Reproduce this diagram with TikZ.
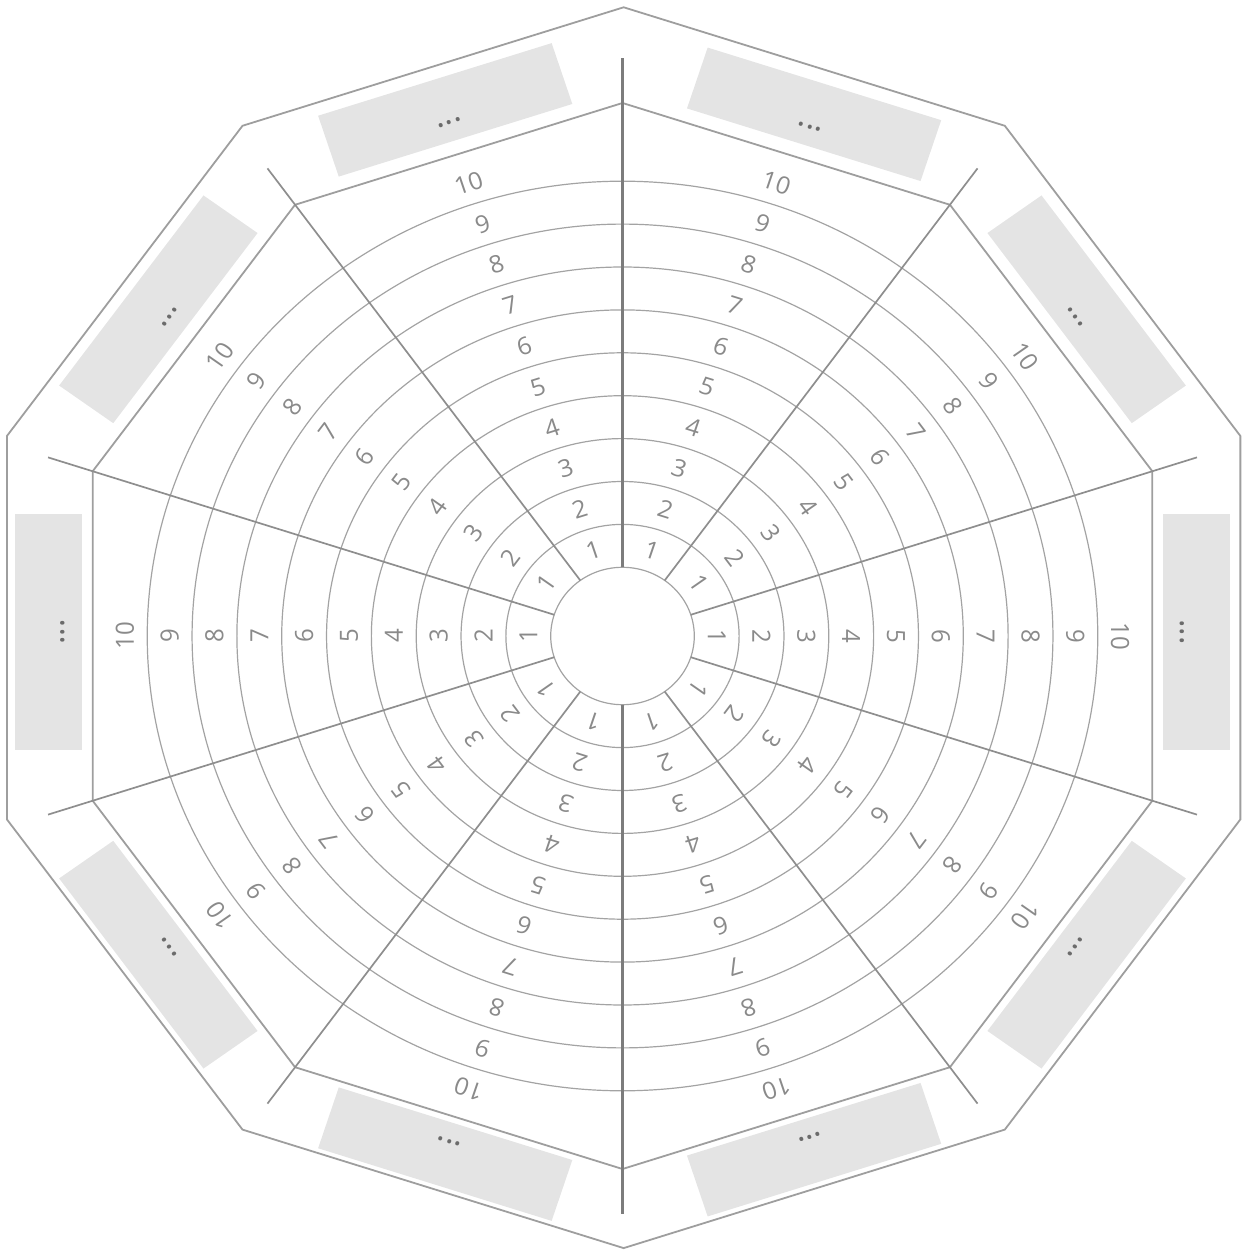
\documentclass[tikz,border=0pt]{standalone}
\usepackage{fontspec}
\setmainfont{Open Sans}
\usepackage{tikz}
\usetikzlibrary{positioning}
\usepackage{xcolor}

\definecolor{ringgray}{HTML}{A3A3A3}
\definecolor{spokegray}{HTML}{8E8E8E}
\definecolor{axisgray}{HTML}{7C7C7C}
\definecolor{rimgray}{HTML}{9E9E9E}
\definecolor{scoregray}{HTML}{8A8A8A}
\definecolor{slotgray}{HTML}{E4E4E4}
\definecolor{dotgray}{HTML}{6B6B6B}

\begin{document}
\begin{tikzpicture}[
      x=0.5pt, y=0.5pt, xscale=1.045,
      ring/.style={draw=ringgray, line width=0.6pt},
      spoke/.style={draw=spokegray, line width=0.85pt},
      axis/.style={draw=axisgray, line width=1.5pt},
      rim/.style={draw=rimgray, line width=0.9pt},
      score/.style={
        font=\fontsize{12}{14}\selectfont,
        text=scoregray,
        inner sep=0pt,
        transform shape
      },
      slot/.style={
        fill=slotgray,
        minimum width=117.5pt,
        minimum height=32pt,
        inner sep=0pt,
        text height=15pt, % dots sit below the middle of the slot
        text depth=0pt,
        font=\fontsize{16}{16}\selectfont,
        text=dotgray,
        transform shape
      }
    ]
    % Fix the margins
    \useasboundingbox (-595.7,-616) rectangle (599.5,636);

    % Outer rim, a little higher than the wheel
    \begin{scope}[shift={(1.1,8.3)}]
      \foreach \i in {0,...,9}
        \coordinate (outer\i) at ({90-36*\i}:620.4);
    \end{scope}
    \draw [rim] (outer0) -- (outer1) -- (outer2) -- (outer3) -- (outer4) -- (outer5)
      -- (outer6) -- (outer7) -- (outer8) -- (outer9) -- cycle;

    % Inner rim
    \foreach \i in {0,...,9}
      \coordinate (inner\i) at ({90-36*\i}:533);
    \draw [rim] (inner0) -- (inner1) -- (inner2) -- (inner3) -- (inner4) -- (inner5)
      -- (inner6) -- (inner7) -- (inner8) -- (inner9) -- cycle;

    % Hub and rings
    \coordinate (hub) at (0,0);
    \foreach \k in {0,...,9}
      \draw [ring] (hub) circle [radius={(68.7+42.9*\k)*0.5pt}];

    % Spokes
    \foreach \a in {54,18,-18,-54,-126,-162,162,126}
      \draw [spoke] (\a:68.7) -- (\a:578);
    \draw [axis] (90:68.7) -- (90:578);
    \draw [axis] (-90:68.7) -- (-90:578);

    % Scores in every sector
    \foreach \a [count=\s] in {72,36,0,-36,-72,-108,-144,180,144,108}
      \foreach \k in {1,...,10}
        \node [score, rotate=\a-90] (score\s-\k) at (\a:{47.25+42.9*\k}) {\k};

    % Name slots between the rims
    \begin{scope}[shift={(0,4)}]
      \foreach \a/\dx [count=\s] in {72/14.4, 36/0, 0/0, -36/0, -72/-14.4,
                                      -108/0, -144/0, 180/0, 144/0, 108/0}
        \node [slot, rotate=\a-90, xshift=\dx*0.5pt] (slot\s) at (\a:549) {...};
    \end{scope}
  \end{tikzpicture}
\end{document}
